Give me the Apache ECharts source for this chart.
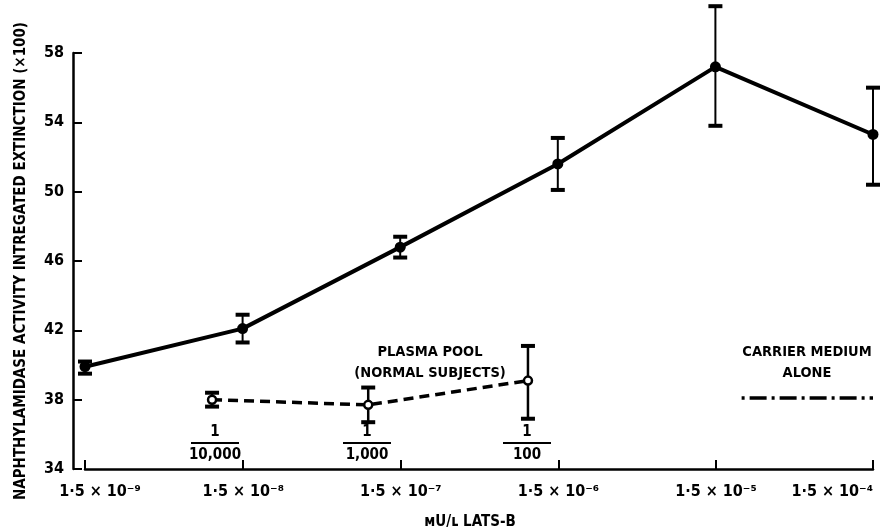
<!DOCTYPE html>
<html>
<head>
<meta charset="utf-8">
<script src="https://cdn.jsdelivr.net/npm/echarts@6/dist/echarts.min.js"></script>
<style>
  html, body { margin: 0; padding: 0; background: #fff; }
  #chart { width: 896px; height: 532px; }
</style>
</head>
<body>
<div id="chart"></div>
<script>
// LATS-B concentration (mU/L) and response
var latsDose = [1.5e-9, 1.5e-8, 1.5e-7, 1.5e-6, 1.5e-5, 1.5e-4];
var latsMean = [39.9, 42.1, 46.8, 51.6, 57.2, 53.3];
var latsLow  = [39.5, 41.3, 46.2, 50.1, 53.8, 50.4];
var latsHigh = [40.2, 42.9, 47.4, 53.1, 60.7, 56.0];

// plasma pool (normal subjects), dilutions 1/10,000 1/1,000 1/100
var poolDose = [9.6e-9, 9.4e-8, 9.7e-7];
var poolMean = [38.0, 37.7, 39.1];
var poolLow  = [37.6, 36.7, 36.9];
var poolHigh = [38.4, 38.7, 41.1];
var poolLabels = ['10,000', '1,000', '100'];

// carrier medium alone
var carrierDose = [2.2e-5, 1.5e-4];
var carrierMean = [38.1, 38.1];

var yTicks = { min: 34, max: 58, step: 4 };
var xExp = [-9, -8, -7, -6, -5, -4];

var FONT = '"DejaVu Sans Condensed", "Liberation Sans Narrow", sans-serif';
var log = function (v) { return Math.log10(v); };

function toPoints(xs, ys) {
    var out = [];
    for (var i = 0; i < xs.length; i++) out.push([log(xs[i]), ys[i]]);
    return out;
}
function toBars(xs, lo, hi) {
    var out = [];
    for (var i = 0; i < xs.length; i++) out.push([log(xs[i]), lo[i], hi[i]]);
    return out;
}

var supMap = { '-': '\u207B', '0': '\u2070', '1': '\u00B9', '2': '\u00B2', '3': '\u00B3',
    '4': '\u2074', '5': '\u2075', '6': '\u2076', '7': '\u2077', '8': '\u2078', '9': '\u2079' };
function sup(n) {
    return String(n).split('').map(function (c) { return supMap[c]; }).join('');
}

// error bar: stem plus two caps
function errorBar(capHalf, stemW) {
    return function (params, api) {
        var x = api.value(0);
        var top = api.coord([x, api.value(2)]);
        var bot = api.coord([x, api.value(1)]);
        var st = { stroke: '#000', lineWidth: stemW };
        var cap = { stroke: '#000', lineWidth: 4 };
        return {
            type: 'group',
            children: [
                { type: 'line', shape: { x1: top[0], y1: top[1], x2: bot[0], y2: bot[1] }, style: st },
                { type: 'line', shape: { x1: top[0] - capHalf, y1: top[1], x2: top[0] + capHalf, y2: top[1] }, style: cap },
                { type: 'line', shape: { x1: bot[0] - capHalf, y1: bot[1], x2: bot[0] + capHalf, y2: bot[1] }, style: cap }
            ]
        };
    };
}

function txt(x, y, s, size) {
    return { type: 'text', x: x, y: y, style: { text: s, font: 'bold ' + size + 'px ' + FONT, fill: '#000', align: 'center', verticalAlign: 'middle' } };
}

var chart = echarts.init(document.getElementById('chart'));

// fraction labels under the plasma pool points
var fracs = [];
var fracX = [215, 367, 527];
for (var i = 0; i < poolLabels.length; i++) {
    fracs.push(txt(fracX[i], 432, '1', 15));
    fracs.push({ type: 'line', shape: { x1: fracX[i] - 24, y1: 443, x2: fracX[i] + 24, y2: 443 }, style: { stroke: '#000', lineWidth: 2 } });
    fracs.push(txt(fracX[i], 455, poolLabels[i], 15));
}

var option = {
    backgroundColor: '#fff',
    animation: false,
    grid: { left: 85, right: 23, top: 53, bottom: 63, outerBoundsMode: 'none' },
    xAxis: {
        type: 'value',
        min: log(1.5e-9),
        max: log(1.5e-4),
        interval: 1,
        name: '\u1D0DU/\u029F LATS-B',
        nameLocation: 'middle',
        nameGap: 46,
        nameTextStyle: { fontFamily: FONT, fontSize: 15, fontWeight: 'bold', color: '#000', padding: [0, 18, 0, 0] },
        axisLine: { lineStyle: { color: '#000', width: 2.5 } },
        axisTick: { inside: true, length: 9, lineStyle: { color: '#000', width: 2 } },
        splitLine: { show: false },
        axisLabel: {
            margin: 15,
            alignMaxLabel: 'right',
            formatter: function (v) {
                var e = Math.round(v - log(1.5));
                var s = '1\u00B75 \u00D7 10' + sup(e);
                if (e === xExp[0]) return '{f|' + s + '}';
                return s;
            },
            rich: { f: { padding: [0, 0, 0, 30], fontFamily: FONT, fontSize: 16, fontWeight: 'bold', color: '#000' } },
            fontFamily: FONT, fontSize: 16, fontWeight: 'bold', color: '#000'
        }
    },
    yAxis: {
        type: 'value',
        min: yTicks.min,
        max: yTicks.max,
        interval: yTicks.step,
        offset: 12,
        name: 'NAPHTHYLAMIDASE ACTIVITY INTREGATED EXTINCTION (\u00D7100)',
        nameLocation: 'middle',
        nameGap: 44,
        nameTextStyle: { fontFamily: FONT, fontSize: 15, fontWeight: 'bold', color: '#000' },
        axisLine: { show: true, lineStyle: { color: '#000', width: 2.5 } },
        axisTick: { show: true, inside: true, length: 9, lineStyle: { color: '#000', width: 2 } },
        splitLine: { show: false },
        axisLabel: { margin: 9, fontFamily: FONT, fontSize: 16, fontWeight: 'bold', color: '#000' }
    },
    graphic: [
        txt(430, 352, 'PLASMA POOL', 14.5),
        txt(430, 373, '(NORMAL SUBJECTS)', 14.5),
        txt(807, 352, 'CARRIER MEDIUM', 14.5),
        txt(807, 373, 'ALONE', 14.5)
    ].concat(fracs),
    series: [
        {
            name: 'LATS-B',
            type: 'line',
            clip: false,
            data: toPoints(latsDose, latsMean),
            symbol: 'circle',
            symbolSize: 11,
            itemStyle: { color: '#000' },
            lineStyle: { color: '#000', width: 4 },
            z: 3
        },
        {
            type: 'custom',
            clip: false,
            renderItem: errorBar(7, 2),
            data: toBars(latsDose, latsLow, latsHigh),
            z: 2
        },
        {
            name: 'Plasma pool',
            type: 'line',
            clip: false,
            data: toPoints(poolDose, poolMean),
            symbol: 'circle',
            symbolSize: 8,
            itemStyle: { color: '#fff', borderColor: '#000', borderWidth: 2.5 },
            lineStyle: { color: '#000', width: 3.5, type: [10, 6] },
            z: 3
        },
        {
            type: 'custom',
            clip: false,
            renderItem: errorBar(7, 2.5),
            data: toBars(poolDose, poolLow, poolHigh),
            z: 2
        },
        {
            name: 'Carrier medium alone',
            type: 'line',
            data: toPoints(carrierDose, carrierMean),
            symbol: 'none',
            lineStyle: { color: '#000', width: 3.5, type: [3, 5, 17, 5] }
        }
    ]
};

chart.setOption(option);
</script>
</body>
</html>
